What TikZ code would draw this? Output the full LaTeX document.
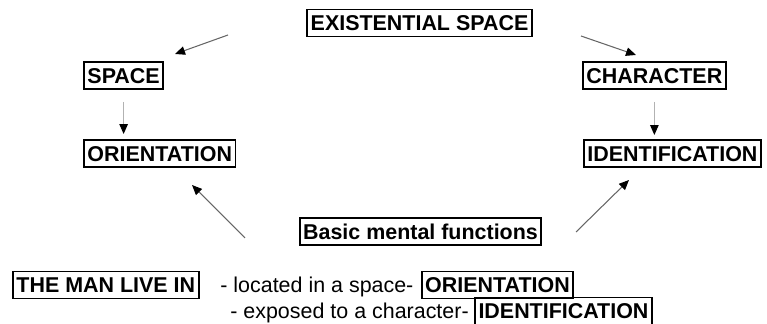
\documentclass[tikz,border=0pt]{standalone}
\usepackage{fontspec}
\setmainfont{Liberation Sans}
\usepackage{tikz}
\usetikzlibrary{arrows.meta,positioning}

\begin{document}
\begin{tikzpicture}[
    >=Stealth,
    x=1cm,
    y=1cm,
    every node/.style={font=\fontsize{12.2}{14}\selectfont},
    conceptbox/.style={draw, line width=1.1pt, font=\fontsize{12.2}{14}\selectfont\bfseries, inner xsep=2pt, inner ysep=0pt, minimum height=0.54cm, text height=8.8pt, text depth=0pt},
    plaintext/.style={inner sep=0pt, minimum height=0.54cm, text height=8.8pt, text depth=0pt},
    flowarrow/.style={-{Triangle[length=2mm, width=1.7mm, color=black]}, line width=0.6pt, draw=black!60},
    droparrow/.style={-{Triangle[length=2mm, width=1.7mm, color=black]}, line width=0.6pt, draw=black!30}
  ]
  \useasboundingbox (0,0) rectangle (15.34,6.48);
  %
  \node[conceptbox] (exist) at (8.39,6.02) {EXISTENTIAL SPACE};

  \node[conceptbox, anchor=west] (space) at (1.66,4.97) {SPACE};
  \node[conceptbox, anchor=west] (orient) at (1.66,3.41) {ORIENTATION};
  \node[conceptbox, anchor=west] (charac) at (11.64,4.97) {CHARACTER};
  \node[conceptbox, anchor=west] (ident) at (11.66,3.41) {IDENTIFICATION};

  \node[conceptbox] (basic) at (8.41,1.85) {Basic mental functions};

  %
  \coordinate (tlstart) at (4.56,5.78);
  \coordinate (tltip) at (3.50,5.40);
  \coordinate (trstart) at (11.62,5.76);
  \coordinate (trtip) at (12.72,5.38);
  \coordinate (blstart) at (4.90,1.72);
  \coordinate (bltip) at (3.84,2.78);
  \coordinate (brstart) at (11.52,1.84);
  \coordinate (brtip) at (12.58,2.88);

  \draw[flowarrow] (tlstart) -- (tltip);
  \draw[flowarrow] (trstart) -- (trtip);
  \draw[flowarrow] (blstart) -- (bltip);
  \draw[flowarrow] (brstart) -- (brtip);

  \draw[droparrow, shorten <=0.24cm, shorten >=0.1cm] (space.south) -- (space.south |- orient.north);
  \draw[droparrow, shorten <=0.24cm, shorten >=0.08cm] (charac.south) -- (charac.south |- ident.north);

  %
  \node[conceptbox, anchor=west] (man) at (0.24,0.78) {THE MAN LIVE IN\ };
  \node[plaintext, anchor=west] (located) at (4.40,0.78) {- located in a space-};
  \node[conceptbox, right=0.14cm of located] (orientb) {ORIENTATION};
  \node[plaintext, anchor=west] (exposed) at (4.60,0.26) {- exposed to a character-};
  \node[conceptbox, right=0.1cm of exposed] (identb) {IDENTIFICATION};
\end{tikzpicture}
\end{document}
